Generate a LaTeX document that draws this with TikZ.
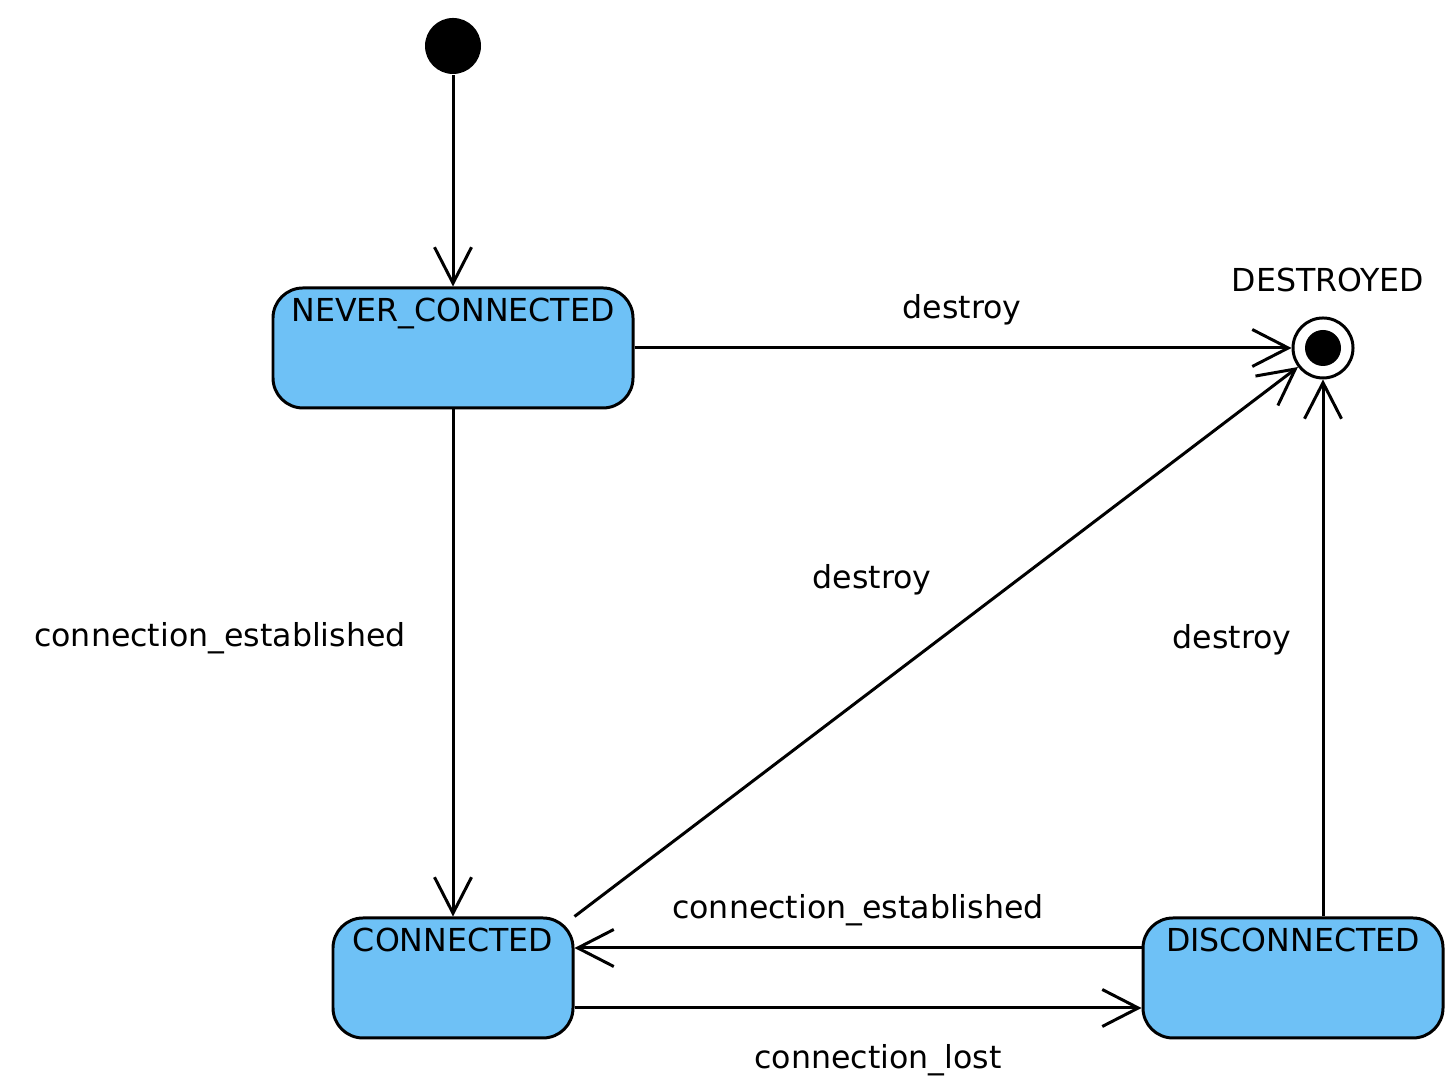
\documentclass[tikz,border=0pt]{standalone}
\usepackage{fontspec}
\setmainfont{DejaVu Sans}
\usetikzlibrary{%
  arrows.meta,%
  shapes,%
  positioning,% wg. " of "
  calc
}
\definecolor{statefill}{HTML}{6EC1F6}

\begin{document}
\begin{tikzpicture}
[draw=black, line width=0.85pt, font=\fontsize{9}{11}\selectfont,
>={Straight Barb[length=3.6mm,width=3.7mm,line width=0.85pt]},
state/.style={rectangle, rounded corners=3mm, draw, fill=statefill, inner sep=0pt, minimum height=12mm},
statename/.style={anchor=north, inner sep=0pt, yshift=-1.0mm},
initial/.style={circle, fill=black, inner sep=0pt, minimum size=5.6mm},
final/.style={circle, draw, fill=white, inner sep=0pt, minimum size=6mm},
finaldot/.style={circle, fill=black, inner sep=0pt, minimum size=3.6mm},
trans/.style={inner sep=1pt}]

\useasboundingbox (0,0) rectangle (14.55,10.92);

\node[initial] (init) at (4.53,10.46) {};

\node[state, minimum width=36mm] (never) at (4.53,7.44) {};
\node[statename] (nevername) at (never.north) {NEVER\_CONNECTED};

\node[state, minimum width=24mm] (connected) at (4.53,1.14) {};
\node[statename] (connectedname) at (connected.north) {CONNECTED};

\node[state, minimum width=30mm] (disconnected) at (12.93,1.14) {};
\node[statename] (disconnectedname) at (disconnected.north) {DISCONNECTED};

\node[final] (destroyed) at (13.23,7.44) {};
\node[finaldot] (destroyeddot) at (destroyed) {};
\node (destroyedname) at (13.28,8.12) {DESTROYED};

\draw[->] (init) -- (never.north);
\draw[->] (never.east) -- (destroyed.west);
\draw[->] (never.south) -- (connected.north);
\draw[->] (connected.north east) -- (destroyed);
\draw[->] (disconnected.north -| destroyed.south) -- (destroyed.south);
\draw[->] ([yshift=3mm]disconnected.west) -- ([yshift=3mm]connected.east);
\draw[->] ([yshift=-3mm]connected.east) -- ([yshift=-3mm]disconnected.west);

\node[trans] (destroy1) at (9.62,7.82) {destroy};
\node[trans] (established1) at (2.20,4.54) {connection\_established};
\node[trans] (destroy2) at (8.72,5.12) {destroy};
\node[trans] (destroy3) at (12.32,4.52) {destroy};
\node[trans] (established2) at (8.58,1.82) {connection\_established};
\node[trans] (lost) at (8.78,0.32) {connection\_lost};
\end{tikzpicture}
\end{document}
